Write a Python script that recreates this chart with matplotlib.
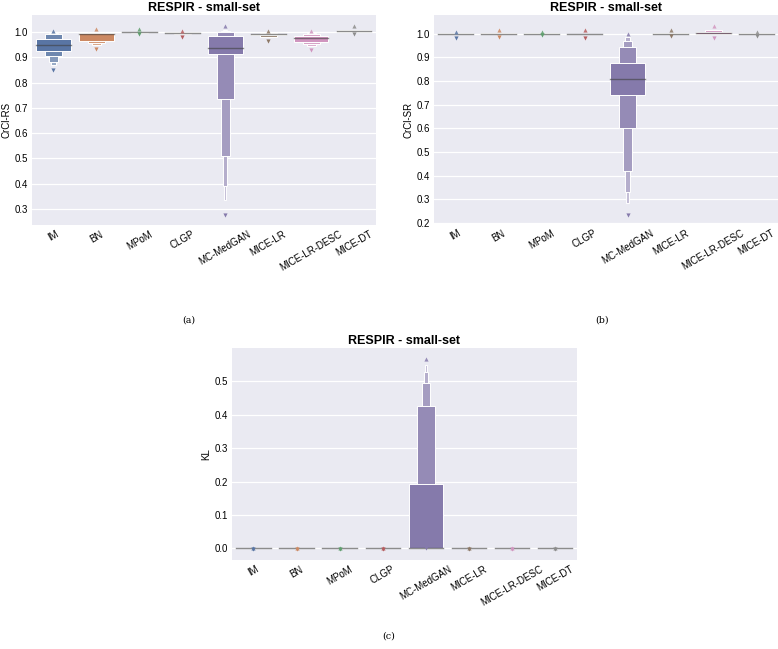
import colorsys
import matplotlib
matplotlib.use("Agg")
import matplotlib.pyplot as plt
import matplotlib.colors as mcolors

# categories and seaborn "deep" colours
cats = ["IM", "BN", "MPoM", "CLGP", "MC-MedGAN", "MICE-LR", "MICE-LR-DESC", "MICE-DT"]
palette = ["#4C72B0", "#DD8452", "#55A868", "#C44E52", "#8172B3", "#937860", "#DA8BC3", "#8C8C8C"]

# letter-value boxes: (low, high), innermost first
rs_median = [0.948, 0.992, 0.999, 0.995, 0.935, 0.990, 0.975, 1.005]
rs_boxes = [
    [(0.926, 0.972), (0.906, 0.991), (0.880, 0.994), (0.868, 0.996)],
    [(0.966, 0.997), (0.958, 0.999), (0.950, 1.000)],
    [(0.998, 1.000), (0.996, 1.001)],
    [(0.994, 0.996), (0.992, 0.997)],
    [(0.911, 0.985), (0.736, 1.000), (0.508, 1.004), (0.392, 1.006), (0.335, 1.008)],
    [(0.987, 0.993), (0.981, 0.995)],
    [(0.962, 0.985), (0.954, 0.993), (0.945, 0.996)],
    [(1.004, 1.006)],
]
rs_top = [1.005, 1.012, 1.012, 1.005, 1.024, 1.005, 1.005, 1.024]
rs_bottom = [0.850, 0.932, 0.990, 0.981, 0.277, 0.963, 0.930, 0.993]

sr_median = [1.000, 1.000, 1.000, 0.999, 0.810, 1.000, 1.003, 1.000]
sr_boxes = [
    [(0.999, 1.001)],
    [(0.999, 1.001)],
    [(0.999, 1.001)],
    [(0.998, 1.000)],
    [(0.740, 0.875), (0.602, 0.945), (0.421, 0.970), (0.330, 0.985), (0.285, 0.990)],
    [(0.999, 1.001)],
    [(1.000, 1.006), (0.998, 1.014)],
    [(0.999, 1.001)],
]
sr_top = [1.008, 1.017, 1.006, 1.017, 1.000, 1.017, 1.034, 1.008]
sr_bottom = [0.982, 0.985, 0.994, 0.982, 0.235, 0.990, 0.980, 0.990]

kl_median = [0.0, 0.0, 0.0, 0.0, 0.0, 0.0, 0.0, 0.0]
kl_boxes = [
    [(0.0, 0.0)],
    [(0.0, 0.0)],
    [(0.0, 0.0)],
    [(0.0, 0.0)],
    [(0.0, 0.192), (0.0, 0.426), (0.0, 0.494), (0.0, 0.529), (0.0, 0.550)],
    [(0.0, 0.0)],
    [(0.0, 0.0)],
    [(0.0, 0.0)],
]
kl_top = [0.002, 0.002, 0.002, 0.002, 0.566, 0.002, 0.002, 0.002]
kl_bottom = [-0.002, -0.002, -0.002, -0.002, 0.0, -0.002, -0.002, -0.002]

plt.rcParams["font.family"] = ["Liberation Sans", "DejaVu Sans"]


def desat(c, prop=0.75):
    r, g, b = mcolors.to_rgb(c)
    h, l, s = colorsys.rgb_to_hls(r, g, b)
    return colorsys.hls_to_rgb(h, l, s * prop)


def shade(c, k):
    r, g, b = desat(c)
    t = min(0.13 * k, 0.8)
    return (r + (1 - r) * t, g + (1 - g) * t, b + (1 - b) * t)


def boxen(ax, median, boxes, top, bottom, ylabel, ylim, yticks):
    ax.set_facecolor("#EAEAF2")
    for s in ax.spines.values():
        s.set_visible(False)
    ax.grid(True, axis="y", color="white", linewidth=0.9)
    ax.set_axisbelow(True)
    for i, levels in enumerate(boxes):
        col = palette[i]
        for k in reversed(range(len(levels))):
            lo, hi = levels[k]
            w = 0.8 / 2 ** k
            ax.bar(i, hi - lo, bottom=lo, width=w, color=shade(col, k),
                   edgecolor="white", linewidth=0.7, zorder=2)
        ax.plot([i - 0.4, i + 0.4], [median[i], median[i]], color="0.25",
                alpha=0.6, linewidth=1.0, zorder=3)
        ax.plot(i, top[i], marker="^", ms=3, color=shade(col, 1), mec="none", zorder=3)
        ax.plot(i, bottom[i], marker="v", ms=3, color=shade(col, 0), mec="none", zorder=3)
    ax.set_xlim(-0.5, len(cats) - 0.5)
    ax.set_ylim(*ylim)
    ax.set_yticks(yticks)
    ax.set_xticks(range(len(cats)))
    ax.set_xticklabels(cats, rotation=30)
    ax.tick_params(length=0, labelsize=7, pad=3)
    ax.set_ylabel(ylabel, fontsize=7, labelpad=2)
    ax.set_title("RESPIR - small-set", fontsize=9, fontweight="bold", pad=3)


fig = plt.figure(figsize=(7.78, 6.49), dpi=100)
ax1 = fig.add_axes([0.041, 0.6533, 0.442, 0.3236])
ax2 = fig.add_axes([0.558, 0.6549, 0.442, 0.3220])
ax3 = fig.add_axes([0.298, 0.1371, 0.4434, 0.3267])

boxen(ax1, rs_median, rs_boxes, rs_top, rs_bottom, "CrCl-RS", (0.237, 1.067),
      [0.3, 0.4, 0.5, 0.6, 0.7, 0.8, 0.9, 1.0])
boxen(ax2, sr_median, sr_boxes, sr_top, sr_bottom, "CrCl-SR", (0.196, 1.079),
      [0.2, 0.3, 0.4, 0.5, 0.6, 0.7, 0.8, 0.9, 1.0])
boxen(ax3, kl_median, kl_boxes, kl_top, kl_bottom, "KL", (-0.035, 0.6),
      [0.0, 0.1, 0.2, 0.3, 0.4, 0.5])

for x, y, s in [(0.243, 0.507, "(a)"), (0.774, 0.507, "(b)"), (0.5, 0.02, "(c)")]:
    fig.text(x, y, s, ha="center", va="center", fontsize=6.8, family="DejaVu Serif")

fig.savefig("out.png", dpi=100)
